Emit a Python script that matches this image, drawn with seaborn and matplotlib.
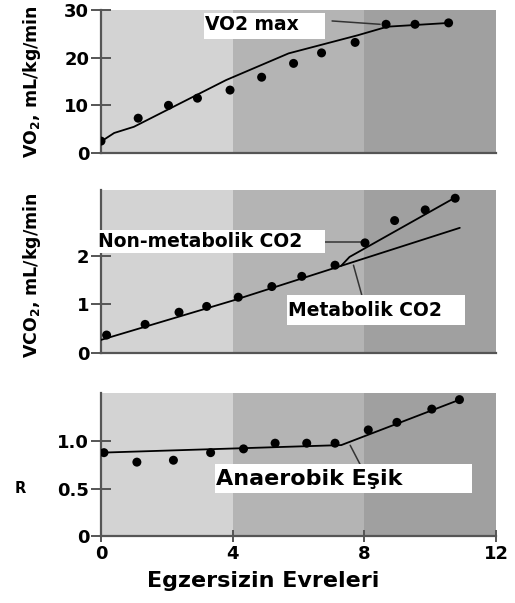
import matplotlib
matplotlib.use("Agg")
import matplotlib.pyplot as plt
import seaborn as sns
from matplotlib.patches import Rectangle

# ---------------- data ----------------
stage_vo2 = [0.0, 1.13, 2.05, 2.93, 3.92, 4.88, 5.85, 6.7, 7.72, 8.66, 9.54, 10.56]
vo2 = [2.5, 7.3, 10.0, 11.5, 13.2, 15.9, 18.8, 21.0, 23.2, 27.0, 27.0, 27.3]
vo2_line_x = [0.0, 0.4, 1.0, 2.0, 3.8, 5.7, 7.8, 8.7, 10.6]
vo2_line_y = [2.4, 4.2, 5.5, 9.0, 15.3, 20.9, 24.7, 26.5, 27.3]

stage_vco2 = [0.17, 1.34, 2.37, 3.21, 4.17, 5.19, 6.1, 7.11, 8.02, 8.92, 9.85, 10.76]
vco2 = [0.37, 0.59, 0.84, 0.96, 1.15, 1.37, 1.58, 1.81, 2.27, 2.73, 2.95, 3.19]
met_line_x = [0.0, 4.0, 10.9]
met_line_y = [0.27, 1.08, 2.58]
nonmet_line_x = [7.3, 7.55, 10.8]
nonmet_line_y = [1.8, 1.98, 3.22]

stage_r = [0.09, 1.09, 2.2, 3.33, 4.33, 5.29, 6.25, 7.11, 8.12, 8.99, 10.05, 10.89]
r_vals = [0.88, 0.78, 0.8, 0.88, 0.92, 0.98, 0.98, 0.98, 1.12, 1.2, 1.34, 1.44]
r_line_x = [0.0, 7.3, 10.9]
r_line_y = [0.88, 0.96, 1.44]

phase_edges = [0, 4, 8, 12]
phase_colors = ["#d3d3d3", "#b4b4b4", "#a0a0a0"]

vo2_ticks = [0, 10, 20, 30]
vco2_ticks = [0, 1, 2]
r_ticks = [0, 0.5, 1.0]
r_ticklabels = ["0", "0.5", "1.0"]
x_ticks = [0, 4, 8, 12]

# ---------------- style ----------------
sns.set_style("white")
plt.rcParams["font.family"] = ["DejaVu Sans"]
plt.rcParams["mathtext.default"] = "regular"
plt.rcParams["text.color"] = "black"
plt.rcParams["axes.labelcolor"] = "black"

W, H = 515, 603
fig = plt.figure(figsize=(W / 100, H / 100), dpi=100)

def axes_px(left, top, right, bottom):
    return fig.add_axes([left / W, 1 - bottom / H, (right - left) / W, (bottom - top) / H])

ax1 = axes_px(101, 10, 496, 153)
ax2 = axes_px(101, 190, 496, 353)
ax3 = axes_px(101, 393, 496, 536)

spine_c = "#555555"
TICK_FS = 13

def style_axes(ax, ylim, yticks, yticklabels=None, xaxis=False):
    for (a, b), c in zip(zip(phase_edges[:-1], phase_edges[1:]), phase_colors):
        ax.axvspan(a, b, color=c, lw=0, zorder=0)
    ax.set_xlim(0, 12)
    ax.set_ylim(*ylim)
    for s in ["top", "right"]:
        ax.spines[s].set_visible(False)
    for s in ["left", "bottom"]:
        ax.spines[s].set_color(spine_c)
        ax.spines[s].set_linewidth(1.6)
        ax.spines[s].set_zorder(2.5)
    ax.set_yticks(yticks)
    if yticklabels is not None:
        ax.set_yticklabels(yticklabels)
    ax.tick_params(axis="y", direction="inout", length=14, width=1.4, color=spine_c,
                   labelcolor="black", pad=1.5, labelsize=TICK_FS, left=True)
    for t in ax.get_yticklabels():
        t.set_fontweight("bold")
    if xaxis:
        ax.set_xticks(x_ticks)
        ax.tick_params(axis="x", direction="inout", length=9, width=1.4, color=spine_c,
                       labelcolor="black", pad=2, labelsize=TICK_FS, bottom=True)
        for t in ax.get_xticklabels():
            t.set_fontweight("bold")
    else:
        ax.set_xticks([])

def draw(ax, sx, sy, lines):
    for lx, ly in lines:
        sns.lineplot(x=lx, y=ly, ax=ax, color="black", lw=1.3, sort=False,
                     estimator=None, zorder=3)
    sns.scatterplot(x=sx, y=sy, ax=ax, color="black", s=42, edgecolor="none", zorder=4)

def label_box(ax, x0, y0, x1, y1, tx, ty, text, size, weight="bold"):
    ax.add_patch(Rectangle((x0, y0), x1 - x0, y1 - y0, facecolor="white",
                           edgecolor="none", zorder=5, clip_on=False))
    ax.text(tx, ty, text, fontsize=size, fontweight=weight, ha="left", va="center",
            zorder=6, color="black")

# ---- panel 1: VO2 ----
style_axes(ax1, (0, 30), vo2_ticks)
draw(ax1, stage_vo2, vo2, [(vo2_line_x, vo2_line_y)])
label_box(ax1, 3.13, 23.9, 6.81, 29.35, 3.15, 27.0, "VO2 max", 13.5)
ax1.plot([7.02, 8.48], [27.7, 27.0], color="#333333", lw=1.1, zorder=3)
ax1.set_ylabel("VO$_2$, mL/kg/min", fontsize=12.5, fontweight="bold")
ax1.yaxis.set_label_coords(-0.148, 0.5)

# ---- panel 2: VCO2 ----
style_axes(ax2, (0, 3.36), vco2_ticks)
draw(ax2, stage_vco2, vco2, [(met_line_x, met_line_y), (nonmet_line_x, nonmet_line_y)])
label_box(ax2, -0.12, 2.06, 6.81, 2.54, -0.09, 2.29, "Non-metabolik CO2", 13.5)
ax2.plot([6.81, 7.96], [2.29, 2.29], color="#333333", lw=1.1, zorder=3)
label_box(ax2, 5.65, 0.58, 11.06, 1.2, 5.68, 0.88, "Metabolik CO2", 13.5)
ax2.plot([7.67, 7.92], [1.81, 1.2], color="#333333", lw=1.1, zorder=3)
ax2.set_ylabel("VCO$_2$, mL/kg/min", fontsize=12.5, fontweight="bold")
ax2.yaxis.set_label_coords(-0.148, 0.48)

# ---- panel 3: R ----
style_axes(ax3, (0, 1.51), r_ticks, r_ticklabels, xaxis=True)
draw(ax3, stage_r, r_vals, [(r_line_x, r_line_y)])
label_box(ax3, 3.47, 0.451, 11.28, 0.757, 3.49, 0.600, "Anaerobik Eşik", 16, weight="semibold")
ax3.plot([7.57, 7.87], [0.958, 0.757], color="#333333", lw=1.1, zorder=3)
ax3.set_ylabel("R", fontsize=10.5, fontweight="bold", rotation=0, ha="center", va="center")
ax3.yaxis.set_label_coords(-0.205, 0.33)
ax3.set_xlabel("Egzersizin Evreleri", fontsize=16, fontweight="bold", va="top")
ax3.xaxis.set_label_coords(0.41, -0.245)

fig.savefig("out.png", dpi=100, facecolor="white")
